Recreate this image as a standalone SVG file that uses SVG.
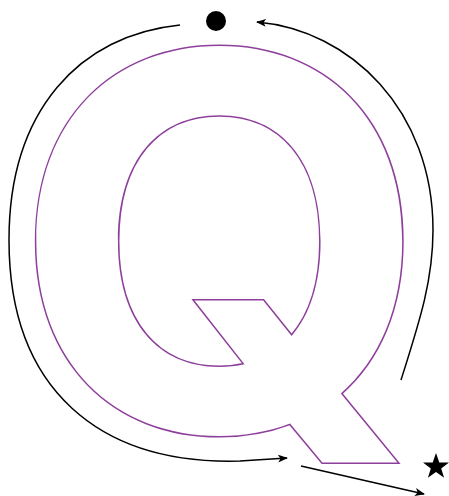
<svg xmlns="http://www.w3.org/2000/svg" width="449" height="496" viewBox="0 0 449 496">
<style>
.q{fill:#fff;stroke:#8e3f9c;stroke-width:3;paint-order:stroke;font-family:Inter,Roboto,sans-serif;font-weight:bold;font-size:530px}
.c{fill:none;stroke:#000;stroke-width:1.5}
</style>
<defs>
<marker id="ah" viewBox="0 0 10 8" refX="9" refY="4" markerWidth="10" markerHeight="8" markerUnits="userSpaceOnUse" orient="auto"><path d="M0,0 L10,4 L0,8 L2.5,4 Z" fill="#000"/></marker>
</defs>
<g id="letter" transform="translate(11.6,431) scale(1.017,0.985)"><text class="q" x="0" y="0">Q</text></g>
<g id="dot"><circle cx="216" cy="21" r="10" fill="#000"/></g>
<g id="star"><polygon points="436,453 439.3,462.5 449,462.6 441.2,468.4 444.1,477.8 436,472.1 427.9,477.8 430.8,468.4 423,462.6 432.7,462.5" fill="#000"/></g>
<g id="connectors">
<path class="c" d="M180,25 C80,35 9,110 9,240 C9,390 100,465 240,461 L287,458" marker-end="url(#ah)"/>
<path class="c" d="M401,380 C420,320 433,280 433,230 C433,110 350,30 257,22" marker-end="url(#ah)"/>
<path class="c" d="M301,466 L424,494" marker-end="url(#ah)"/>
</g>
</svg>
